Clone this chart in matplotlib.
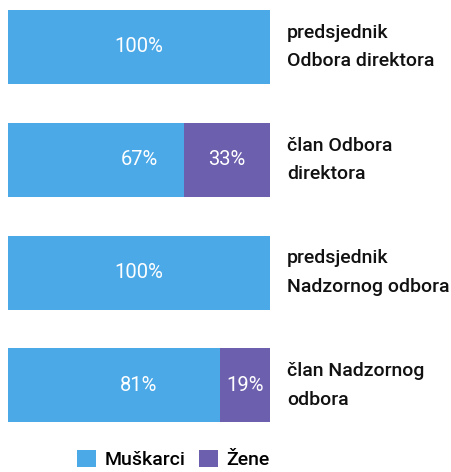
import matplotlib
matplotlib.use('Agg')
import matplotlib.pyplot as plt
from matplotlib.patches import Patch

# data
categories = ['predsjednik\nOdbora direktora', 'član Odbora\ndirektora',
              'predsjednik\nNadzornog odbora', 'član Nadzornog\nodbora']
muskarci = [100, 67, 100, 81]
zene = [0, 33, 0, 19]
series_names = ['Muškarci', 'Žene']
colors = ['#4BA9E8', '#6C5FAE']

plt.rcParams['font.family'] = ['Roboto', 'DejaVu Sans']

W, H = 451, 472
fig = plt.figure(figsize=(W / 100, H / 100), dpi=100)
fig.patch.set_facecolor('white')

# axes span the bar area horizontally, full height vertically
ax = fig.add_axes([8 / W, 0, 262 / W, 1])
step = 112.8  # pixels between bar centres
top = 47.0    # pixel of first bar centre
ax.set_ylim((H - top) / step, -top / step)
ax.set_xlim(0, 100)
ax.axis('off')

ypos = list(range(len(categories)))
bh = 74 / step
ax.barh(ypos, muskarci, height=bh, color=colors[0], linewidth=0)
ax.barh(ypos, zene, left=muskarci, height=bh, color=colors[1], linewidth=0)

for y, m, z, cat in zip(ypos, muskarci, zene, categories):
    ax.text(50, y, f'{m}%', color='white', fontsize=14.5, ha='center', va='center')
    if z > 0:
        ax.text(m + z / 2, y, f'{z}%', color='white', fontsize=14.5, ha='center', va='center')
    ax.text(106.5, y, cat, color='#111111', fontsize=14, fontweight='medium',
            ha='left', va='center', linespacing=1.75, clip_on=False)

handles = [Patch(facecolor=c, edgecolor='none') for c in colors]
fig.legend(handles, series_names, loc='upper center', bbox_to_anchor=(173 / W, 1 - 450 / H),
           ncol=2, frameon=False, handlelength=1.0, handleheight=1.0,
           handletextpad=0.4, columnspacing=0.7, borderpad=0, borderaxespad=0,
           prop={'weight': 'medium', 'size': 14})

fig.savefig('out.png', dpi=100)
